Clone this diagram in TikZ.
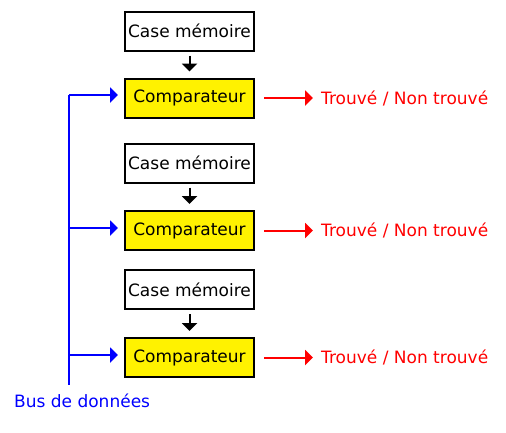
\documentclass[tikz,border=0pt]{standalone}
\usepackage{fontspec}
\setmainfont{DejaVu Sans}
\usetikzlibrary{arrows.meta}
\begin{document}
\begin{tikzpicture}[x=1pt,y=-1pt,
  txt/.style={font=\fontsize{17}{19}\selectfont},
  mem/.style={txt,draw=black,line width=2pt,fill=white,minimum width=129pt,minimum height=39pt,inner sep=0pt},
  cmp/.style={mem,fill=yellow},
  lbl/.style={txt,inner sep=0pt,anchor=west},
  blk/.style={draw=black,line width=2pt,-{Triangle[length=8pt,width=15pt]},shorten <=4pt,shorten >=6pt},
  rarr/.style={draw=red,line width=2pt,-{Triangle[length=8pt,width=15pt]},shorten <=9pt,shorten >=8pt},
  barr/.style={draw=blue,line width=2pt,-{Triangle[length=8pt,width=15pt]},shorten >=6pt},
  busline/.style={draw=blue,line width=2pt}]
\useasboundingbox[fill=white] (0,0) rectangle (506,432);
% boxes
\node[mem] (c1) at (189.5,31) {Case mémoire};
\node[cmp] (m1) at (189.5,98) {Comparateur};
\node[mem] (c2) at (189.5,163) {Case mémoire};
\node[cmp] (m2) at (189.5,230.5) {Comparateur};
\node[mem] (c3) at (189.5,289.5) {Case mémoire};
\node[cmp] (m3) at (189.5,357.5) {Comparateur};
% outputs
\node[lbl,text=red] (t1) at (321,98) {Trouvé / Non trouvé};
\node[lbl,text=red] (t2) at (321,230.5) {Trouvé / Non trouvé};
\node[lbl,text=red] (t3) at (321,357.5) {Trouvé / Non trouvé};
\node[lbl,text=blue] (bus) at (14,401) {Bus de données};
% memory to comparator
\draw[blk] (c1.south) -- (m1.north);
\draw[blk] (c2.south) -- (m2.north);
\draw[blk] (c3.south) -- (m3.north);
% results
\draw[rarr] (m1.east) -- (t1.west);
\draw[rarr] (m2.east) -- (t2.west);
\draw[rarr] (m3.east) -- (t3.west);
% bus
\coordinate (btop) at (69,95);
\coordinate (b2) at (69,228);
\coordinate (b3) at (69,355);
\coordinate (bbot) at (69,385);
\draw[busline] (btop) -- (bbot);
\draw[barr] (btop) -- (btop -| m1.west);
\draw[barr] (b2) -- (b2 -| m2.west);
\draw[barr] (b3) -- (b3 -| m3.west);
\end{tikzpicture}
\end{document}
